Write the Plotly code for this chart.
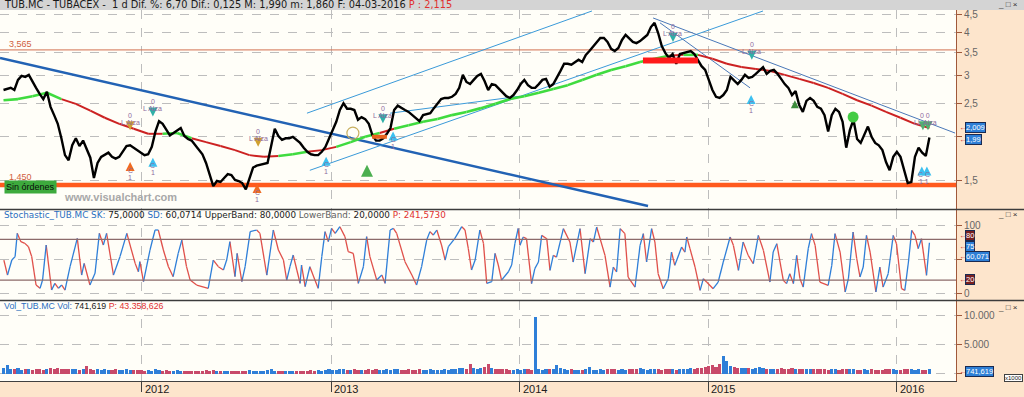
import numpy as np
import pandas as pd
import plotly.graph_objects as go

# ---------------------------------------------------------------- data
START = "2011-04-08"          # first weekly close shown
N_WEEKS = 257                 # weekly closes up to 2016-03-04

close = [
    2.73, 2.75, 2.77, 2.73, 2.92, 3.00, 2.98, 3.02, 2.88, 2.77,
    2.66, 2.57, 2.70, 2.44, 2.31, 2.18, 1.98, 1.77, 1.71, 1.89,
    1.98, 1.88, 1.95, 1.84, 1.74, 1.52, 1.68, 1.75, 1.78, 1.80,
    1.75, 1.73, 1.75, 1.81, 1.88, 1.89, 1.86, 1.82, 1.80, 1.77,
    1.78, 1.87, 2.07, 2.22, 2.18, 2.09, 2.02, 2.05, 2.08, 2.12,
    2.01, 1.97, 1.95, 1.89, 1.84, 1.78, 1.68, 1.55, 1.44, 1.49,
    1.48, 1.52, 1.56, 1.55, 1.50, 1.49, 1.47, 1.41, 1.51, 1.63,
    1.65, 1.66, 1.67, 1.68, 1.88, 2.11, 2.01, 1.96, 1.98, 1.98,
    2.00, 1.96, 1.92, 1.86, 1.81, 1.78, 1.77, 1.77, 1.81, 1.87,
    1.98, 2.09, 2.21, 2.39, 2.50, 2.41, 2.41, 2.39, 2.24, 2.28,
    2.25, 2.18, 2.02, 1.95, 1.95, 1.98, 2.04, 2.12, 2.39, 2.46,
    2.42, 2.39, 2.36, 2.31, 2.27, 2.22, 2.31, 2.33, 2.34, 2.42,
    2.50, 2.57, 2.59, 2.59, 2.61, 2.66, 2.77, 3.02, 2.88, 2.84,
    2.92, 3.00, 3.04, 2.90, 2.73, 2.84, 2.82, 2.75, 2.68, 2.62,
    2.59, 2.64, 2.73, 2.84, 2.92, 2.82, 2.77, 2.77, 2.84, 2.92,
    2.94, 2.79, 2.84, 2.96, 3.10, 3.25, 3.25, 3.23, 3.29, 3.34,
    3.29, 3.45, 3.54, 3.64, 3.76, 3.86, 3.86, 3.76, 3.59, 3.54,
    3.61, 3.81, 3.94, 3.84, 3.76, 3.73, 3.78, 3.86, 3.94, 4.15,
    4.27, 3.99, 3.66, 3.49, 3.38, 3.47, 3.25, 3.47, 3.49, 3.52,
    3.54, 3.47, 3.34, 3.20, 3.12, 2.90, 2.73, 2.61, 2.59, 2.64,
    2.73, 2.98, 2.90, 2.84, 2.92, 3.02, 2.96, 2.98, 3.04, 3.10,
    3.18, 3.04, 3.10, 3.12, 3.04, 2.94, 2.84, 2.77, 2.64, 2.71,
    2.47, 2.36, 2.54, 2.59, 2.54, 2.44, 2.41, 2.31, 2.07, 2.31,
    2.41, 2.36, 2.21, 1.86, 2.09, 2.24, 1.97, 1.92, 2.04, 2.14,
    2.00, 1.92, 1.89, 1.83, 1.69, 1.60, 1.75, 1.81, 1.75, 1.60,
    1.47, 1.48, 1.75, 1.86, 1.80, 1.76, 1.99,
]

MA_EVERY = 4                  # moving average read every 4th week
ma200 = [
    2.55, 2.57, 2.62, 2.68, 2.57, 2.49, 2.38, 2.27, 2.18, 2.11,
    2.04, 2.04, 2.05, 1.98, 1.93, 1.88, 1.83, 1.77, 1.75, 1.76,
    1.78, 1.81, 1.83, 1.87, 1.93, 2.00, 2.05, 2.11, 2.16, 2.21,
    2.25, 2.31, 2.36, 2.42, 2.49, 2.57, 2.62, 2.68, 2.75, 2.82,
    2.92, 3.02, 3.12, 3.20, 3.29, 3.36, 3.43, 3.45, 3.45, 3.36,
    3.25, 3.18, 3.14, 3.10, 3.02, 2.94, 2.86, 2.77, 2.66, 2.55,
    2.46, 2.36, 2.27, 2.18, 2.12,
]

# stochastic turning points: time in weeks after START, value
stoch_wk = [
    0.1, 1.1, 2.3, 3.2, 3.8, 4.8, 5.9, 6.9, 7.8, 9.0,
    10.1, 10.8, 11.8, 13.3, 14.2, 15.2, 16.1, 17.0, 18.4, 20.4,
    21.6, 22.3, 23.9, 25.3, 26.5, 27.6, 28.5, 30.4, 32.2, 34.1,
    36.4, 37.3, 37.7, 38.7, 40.5, 41.9, 42.8, 44.2, 45.6, 46.9,
    48.3, 49.3, 50.6, 51.6, 53.4, 56.6, 58.0, 59.4, 60.8, 61.7,
    62.6, 64.0, 64.6, 65.9, 66.8, 68.2, 70.0, 70.9, 72.8, 74.6,
    76.0, 77.4, 78.3, 79.2, 80.1, 81.1, 82.0, 82.4, 83.4, 84.7,
    86.1, 87.0, 88.0, 88.9, 89.8, 90.7, 91.7, 93.0, 94.4, 95.3,
    96.7, 98.1, 99.5, 100.4, 101.3, 103.2, 104.6, 105.5, 106.9, 107.8,
    108.7, 111.0, 112.9, 114.2, 115.6, 117.0, 117.9, 118.8, 119.8, 121.1,
    122.1, 123.0, 124.8, 126.7, 127.6, 128.5, 129.4, 130.4, 131.7, 132.7,
    133.6, 135.0, 135.9, 136.8, 137.7, 139.6, 140.5, 141.4, 142.3, 142.8,
    143.7, 144.6, 146.0, 146.9, 147.9, 148.8, 150.2, 151.1, 152.0, 152.9,
    154.8, 156.6, 157.5, 159.4, 160.8, 162.2, 163.1, 164.0, 166.3, 167.7,
    168.6, 169.5, 170.5, 171.8, 172.7, 174.6, 176.0, 176.9, 177.8, 179.2,
    180.1, 181.0, 182.4, 183.8, 184.7, 185.6, 187.5, 188.4, 188.9, 189.8,
    191.2, 192.6, 193.5, 194.4, 196.2, 197.6, 199.0, 200.9, 201.8, 203.2,
    204.5, 205.9, 207.3, 208.7, 210.1, 211.9, 212.8, 213.8, 215.6, 216.5,
    217.4, 218.4, 219.3, 220.2, 221.1, 222.5, 223.4, 224.4, 225.7, 228.0,
    229.0, 229.9, 231.3, 232.2, 232.7, 233.6, 234.9, 235.9, 236.8, 237.7,
    238.6, 239.6, 241.2, 242.3, 243.2, 244.6, 246.0, 246.9, 248.3, 249.2,
    250.2, 251.1, 252.0, 252.9, 253.8, 255.2, 256.0,
]
stoch_val = [
    49.5, 27.4, 49.5, 54.5, 88.9, 76.6, 74.1, 69.2, 54.5, 12.7,
    7.8, 20, 71.7, 5.3, 15.1, 7.8, 12.7, 5.3, 39.7, 81.5,
    27.4, 44.6, 12.7, 29.9, 88.9, 71.7, 88.9, 27.4, 54.5, 88.9,
    44.6, 32.3, 47.1, 17.6, 64.3, 93.8, 93.8, 64.3, 39.7, 25,
    59.4, 79, 39.7, 20, 12.7, 7.8, 49.5, 39.7, 34.8, 49.5,
    76.6, 25, 59.4, 17.6, 39.7, 91.4, 93.8, 88.9, 27.4, 93.8,
    64.3, 49.5, 20, 39.7, 56.9, 34.8, 15.1, 42.2, 10.2, 39.7,
    20, 7.8, 54.5, 91.4, 76.6, 96.3, 88.9, 98.7, 84, 61.8,
    59.4, 15.1, 39.7, 84, 54.5, 20, 27.4, 15.1, 93.8, 96.3,
    88.9, 47.1, 27.4, 12.7, 39.7, 79, 91.4, 86.4, 93.8, 71.7,
    49.5, 69.2, 81.5, 98.7, 93.8, 66.8, 34.8, 49.5, 93.8, 74.1,
    15.1, 17.6, 59.4, 42.2, 20, 32.3, 42.2, 74.1, 96.3, 71.2,
    83.5, 81, 14.7, 36.8, 46.6, 85.9, 81, 34.3, 56.4, 53.9,
    95.8, 76.1, 46.6, 95.8, 29.4, 81, 76.1, 98.2, 56.4, 9.7,
    39.2, 31.9, 95.8, 88.4, 24.5, 9.7, 71.2, 88.4, 46.6, 95.8,
    76.1, 29.4, 7.3, 22, 61.3, 41.7, 68.7, 61.3, 83.5, 66.3,
    39.2, 4.8, 22, 17.1, 7.3, 17.1, 46.6, 83.5, 71.2, 34.3,
    76.1, 56.4, 44.1, 85.9, 63.8, 17.1, 61.3, 73.6, 19.6, 14.7,
    29.4, 14.7, 56.4, 22, 9.7, 66.3, 88.4, 71.2, 17.1, 12.2,
    41.7, 88.4, 61.3, 24.5, 2.4, 22, 90.9, 51.5, 24.5, 39.2,
    85.9, 61.3, 2.4, 39.2, 9.7, 29.4, 85.9, 73.6, 7.3, 4.8,
    46.6, 93.3, 85.9, 66.3, 81, 27, 75,
]

# volume (thousands), one value per week
volume_k = [
    900, 1500, 800, 700, 900, 650, 700, 800, 600, 700,
    750, 600, 700, 900, 800, 1000, 850, 700, 800, 750,
    700, 650, 800, 1300, 700, 600, 750, 650, 700, 600,
    650, 700, 600, 550, 700, 600, 650, 550, 600, 500,
    550, 500, 700, 600, 500, 550, 450, 500, 550, 450,
    500, 450, 400, 450, 500, 450, 550, 500, 600, 450,
    400, 450, 500, 400, 450, 500, 450, 500, 550, 450,
    400, 500, 450, 600, 700, 500, 450, 500, 400, 450,
    450, 500, 400, 450, 500, 550, 500, 600, 500, 650,
    700, 600, 650, 800, 700, 600, 650, 700, 550, 600,
    650, 700, 600, 750, 650, 600, 700, 650, 800, 700,
    650, 600, 700, 650, 600, 700, 650, 600, 700, 650,
    600, 650, 700, 650, 750, 800, 900, 1000, 850, 1700,
    900, 800, 1000, 1100, 1700, 900, 800, 700, 750, 700,
    650, 600, 700, 650, 750, 800, 650, 9700, 700, 650,
    700, 750, 800, 1550, 900, 700, 650, 700, 600, 650,
    600, 700, 1100, 650, 600, 700, 650, 800, 750, 700,
    650, 700, 650, 750, 800, 700, 900, 700, 650, 700,
    750, 700, 650, 700, 800, 700, 650, 700, 750, 800,
    900, 800, 900, 1000, 1100, 1300, 1500, 1200, 1600, 3100,
    2100, 1300, 1100, 1000, 900, 1000, 900, 850, 900, 1200,
    900, 800, 750, 850, 800, 900, 750, 800, 1000, 800,
    750, 700, 800, 750, 700, 800, 750, 700, 650, 750,
    700, 650, 700, 750, 800, 700, 650, 600, 700, 650,
    700, 650, 600, 650, 750, 700, 800, 650, 600, 700,
    750, 700, 650, 700, 600, 650, 742,
]

year_ticks = ["2012-01-01", "2013-01-01", "2014-01-01", "2015-01-01", "2016-01-01"]
year_labels = ["2012", "2013", "2014", "2015", "2016"]
price_ticks = [1.5, 2, 2.5, 3, 3.5, 4, 4.5]
price_tick_labels = ["1,5", "", "2,5", "3", "3,5", "4", "4,5"]   # "2" sits under the value boxes
stoch_ticks = [0, 50, 100]
stoch_tick_labels = ["0", "", "100"]                            # "50" sits under the value boxes
vol_ticks = [0, 5000, 10000]
vol_tick_labels = ["", "5.000", "10.000"]

resistance = 3.565
support = 1.450
stoch_bands = [20, 80]

# trend lines (week0, price0, week1, price1)
trend_main = [(-0.97, 3.38, 178.2, 1.261)]
trend_channel = [(83.9, 2.34, 162.7, 4.62), (84.7, 1.60, 210.0, 4.62),
                 (106.9, 2.34, 142.8, 2.62)]
trend_down = [(181.5, 4.27, 206.4, 2.77), (179.6, 4.41, 263.1, 2.05)]
zone_red = (176.8, 192.0, 3.32)
zone_orange = (101.9, 106.0, 2.00)

# trading signals (week, price, side)
sig_wk = [35.0, 35.0, 41.3, 41.3, 70.4, 70.1, 89.2, 104.9, 107.7,
          185.1, 206.9, 206.7, 254.2, 255.6, 253.9, 255.3]
sig_price = [2.09, 1.69, 2.29, 1.74, 1.87, 1.46, 1.75, 2.19, 2.07,
             3.76, 3.34, 2.64, 2.09, 2.09, 1.64, 1.64]
sig_side = ["sell", "buy", "sell", "buy", "sell", "buy", "buy", "sell", "buy",
            "sell", "sell", "buy", "sell", "sell", "buy", "buy"]
big_arrow = (100.5, 1.66)
small_mark = (218.8, 2.55)
ring_mark = (96.6, 2.05)
blob_mark = (234.9, 2.28)

# value boxes on the right axes
price_boxes = ["2,009", "1,99"]
stoch_boxes = ["80", "75", "60,071", "20"]
vol_box = "741,619"

# ---------------------------------------------------------------- styles
C_GREEN_MA = "#3FDB3F"
C_RED_MA = "#CC2222"
C_UP = "#2F7FD8"
C_DN = "#E0504A"
SIG_COLORS = ["#D0A030", "#F06A20", "#30B0A8", "#3CC0F0", "#D0A030", "#F06A20",
              "#3CC0F0", "#30B0A8", "#3CC0F0", "#30B0A8", "#30B0A8", "#3CC0F0",
              "#50B070", "#50B070", "#3CC0F0", "#3CC0F0"]
FONT = "Liberation Sans"
W, H = 1024, 397
X_RIGHT = 956


def px(x):
    return x / W


def py(y):
    return 1 - y / H


t0 = pd.Timestamp(START)


def wk(w):
    return t0 + pd.Timedelta(days=7 * float(w))


dates = pd.date_range(START, periods=N_WEEKS, freq="7D")
x_range = [wk(-0.97), wk(263.35)]

fig = go.Figure()

# horizontal levels
fig.add_trace(go.Scatter(x=x_range, y=[resistance, resistance], mode="lines",
                         line=dict(color="#D27050", width=1), xaxis="x", yaxis="y"))
fig.add_trace(go.Scatter(x=x_range, y=[support, support], mode="lines",
                         line=dict(color="#FF5A1E", width=4.5), xaxis="x", yaxis="y"))

# trend lines
for (w0, p0, w1, p1) in trend_main:
    fig.add_trace(go.Scatter(x=[wk(w0), wk(w1)], y=[p0, p1], mode="lines",
                             line=dict(color="#2262B4", width=2.5), xaxis="x", yaxis="y"))
for (w0, p0, w1, p1) in trend_channel:
    fig.add_trace(go.Scatter(x=[wk(w0), wk(w1)], y=[p0, p1], mode="lines",
                             line=dict(color="#3A9AD9", width=1), xaxis="x", yaxis="y"))
for (w0, p0, w1, p1) in trend_down:
    fig.add_trace(go.Scatter(x=[wk(w0), wk(w1)], y=[p0, p1], mode="lines",
                             line=dict(color="#4A78B8", width=1), xaxis="x", yaxis="y"))

# moving average coloured by position of price
ma_dates = dates[::MA_EVERY]
ma_close = close[::MA_EVERY]
gx, gy, rx, ry = [], [], [], []
for k in range(len(ma200) - 1):
    seg_x = [ma_dates[k], ma_dates[k + 1], None]
    seg_y = [ma200[k], ma200[k + 1], None]
    if ma_close[k] > ma200[k]:
        gx += seg_x; gy += seg_y
    else:
        rx += seg_x; ry += seg_y
fig.add_trace(go.Scatter(x=rx, y=ry, mode="lines", line=dict(color=C_RED_MA, width=2),
                         xaxis="x", yaxis="y"))
fig.add_trace(go.Scatter(x=gx, y=gy, mode="lines", line=dict(color=C_GREEN_MA, width=2.6),
                         xaxis="x", yaxis="y"))

# price
fig.add_trace(go.Scatter(x=dates, y=close, mode="lines",
                         line=dict(color="#000000", width=2.4), xaxis="x", yaxis="y"))

# zones
fig.add_trace(go.Scatter(x=[wk(zone_red[0]), wk(zone_red[1])], y=[zone_red[2]] * 2,
                         mode="lines", line=dict(color="#FF1A1A", width=6), xaxis="x", yaxis="y"))
fig.add_trace(go.Scatter(x=[wk(zone_orange[0]), wk(zone_orange[1])], y=[zone_orange[2]] * 2,
                         mode="lines", line=dict(color="#E8641E", width=4), xaxis="x", yaxis="y"))

# signals
fig.add_trace(go.Scatter(
    x=[wk(w) for w in sig_wk], y=sig_price, mode="markers",
    marker=dict(symbol=["arrow-down" if s == "sell" else "arrow-up" for s in sig_side],
                size=9, color=SIG_COLORS, line=dict(width=0)),
    xaxis="x", yaxis="y"))
fig.add_trace(go.Scatter(x=[wk(big_arrow[0])], y=[big_arrow[1]], mode="markers",
                         marker=dict(symbol="arrow-up", size=12, color="#4CAF50"),
                         xaxis="x", yaxis="y"))
fig.add_trace(go.Scatter(x=[wk(small_mark[0])], y=[small_mark[1]], mode="markers",
                         marker=dict(symbol="arrow-up", size=8, color="#3C8C3C"),
                         xaxis="x", yaxis="y"))
fig.add_trace(go.Scatter(x=[wk(ring_mark[0])], y=[ring_mark[1]], mode="markers",
                         marker=dict(symbol="circle-open", size=12, color="#C8B060",
                                     line=dict(width=1.2)), xaxis="x", yaxis="y"))
fig.add_trace(go.Scatter(x=[wk(blob_mark[0])], y=[blob_mark[1]], mode="markers",
                         marker=dict(symbol="circle", size=11, color="#44CC44"),
                         xaxis="x", yaxis="y"))

# stochastic, blue rising / red falling
ux, uy, dx, dy = [], [], [], []
for a in range(len(stoch_wk) - 1):
    seg_x = [wk(stoch_wk[a]), wk(stoch_wk[a + 1]), None]
    seg_y = [stoch_val[a], stoch_val[a + 1], None]
    if stoch_val[a + 1] >= stoch_val[a]:
        ux += seg_x; uy += seg_y
    else:
        dx += seg_x; dy += seg_y
fig.add_trace(go.Scatter(x=dx, y=dy, mode="lines", line=dict(color=C_DN, width=1.3),
                         xaxis="x2", yaxis="y2"))
fig.add_trace(go.Scatter(x=ux, y=uy, mode="lines", line=dict(color=C_UP, width=1.3),
                         xaxis="x2", yaxis="y2"))

# volume
vol_colors = [C_UP if (i == 0 or close[i] >= close[i - 1]) else "#C84A6A"
              for i in range(N_WEEKS)]
fig.add_trace(go.Bar(x=dates, y=volume_k, marker=dict(color=vol_colors, line=dict(width=0)),
                     width=6 * 86400000, xaxis="x3", yaxis="y3"))

# ---------------------------------------------------------------- layout
xdom = [0, X_RIGHT / W]
grid_common = dict(showgrid=True, gridcolor="#BDBDBD", griddash="dash", gridwidth=1,
                   zeroline=False)
xcommon = dict(type="date", domain=xdom, range=x_range, tickmode="array",
               tickvals=year_ticks, **grid_common)
ycommon = dict(side="right", ticks="outside", ticklen=5, tickcolor="#A0583A",
               showline=True, linecolor="#A0583A", linewidth=1,
               tickfont=dict(family=FONT, size=10, color="#666666"), **grid_common)

fig.update_layout(
    width=W, height=H, margin=dict(l=0, r=0, t=0, b=0),
    paper_bgcolor="#FDE5CC", plot_bgcolor="#FFFEF8", showlegend=False,
    font=dict(family=FONT, size=9, color="#1A1A1A"),
    bargap=0,
    xaxis=dict(anchor="y", showticklabels=False, ticks="", **xcommon),
    xaxis2=dict(anchor="y2", matches="x", showticklabels=False, ticks="", **xcommon),
    xaxis3=dict(anchor="y3", matches="x", showticklabels=False, ticks="outside",
                ticklen=10, tickcolor="#404040",
                showline=True, linecolor="#404040", **xcommon),
    yaxis=dict(anchor="x", type="log", domain=[py(209), py(10)],
               range=[np.log10(1.2367), np.log10(4.65)], tickmode="array",
               tickvals=price_ticks, ticktext=price_tick_labels, **ycommon),
    yaxis2=dict(anchor="x2", domain=[py(300), py(210)], range=[-9.4, 123.3],
                tickmode="array", tickvals=stoch_ticks, ticktext=stoch_tick_labels, **ycommon),
    yaxis3=dict(anchor="x3", domain=[py(381), py(301)], range=[-1293, 12500],
                tickmode="array", tickvals=vol_ticks, ticktext=vol_tick_labels, **ycommon),
)

# stochastic bands
for b in stoch_bands:
    fig.add_shape(type="line", xref="x2 domain", x0=0, x1=1, yref="y2", y0=b, y1=b,
                  line=dict(color="#8C6A6A", width=1.2))

# frame pieces
fig.add_shape(type="rect", xref="paper", yref="paper", x0=0, x1=1, y0=py(10), y1=1,
              fillcolor="#D4D4D4", line=dict(width=0))
for yy in (209.5, 300.5):
    fig.add_shape(type="line", xref="paper", yref="paper", x0=0, x1=1, y0=py(yy), y1=py(yy),
                  line=dict(color="#3C3C3C", width=1.5))

anns = []


def ann(text, x, y, xanchor="left", size=9, color="#1A1A1A", family=FONT, **kw):
    anns.append(dict(text=text, x=px(x), y=py(y), xref="paper", yref="paper",
                     xanchor=xanchor, yanchor="middle", showarrow=False,
                     font=dict(family=family, size=size, color=color), **kw))


RED = "#E03030"
BLUE_T = "#2A6EC0"
ann("TUB.MC - TUBACEX -  1 d Dif. %: 6,70 Dif.: 0,125 M: 1,990 m: 1,860 F: 04-03-2016 "
    f"<span style='color:{RED}'>P : 2,115</span>", 2, 5, size=9.8, family="DejaVu Sans")
ann(f"<span style='color:{BLUE_T}'>Stochastic_TUB.MC SK:</span> 75,0000 "
    f"<span style='color:{BLUE_T}'>SD:</span> 60,0714 UpperBand: 80,0000 "
    f"<span style='color:#606060'>LowerBand:</span> 20,0000 "
    f"<span style='color:{RED}'>P: 241,5730</span>", 2, 215, size=8.8, family="DejaVu Sans")
ann(f"<span style='color:{BLUE_T}'>Vol_TUB.MC Vol:</span> 741,619 "
    f"<span style='color:{RED}'>P: 43.358,626</span>", 2, 306, size=8.8)
for yy in (5, 214, 307):
    ann("_ □ ×", 1020, yy, xanchor="right", size=8, color="#303030")

ann("3,565", 7, 44.5, color="#D06040")
ann("1,450", 7, 176.5, color="#D06040")
ann("Sin órdenes", 4, 187, bgcolor="#3DAA3D", borderpad=1, color="#0A0A0A")
ann("<b>www.visualchart.com</b>", 62, 197, size=11, color="#A8A8A8")

# year labels beside the bottom ticks
for tv, tl in zip(year_ticks, year_labels):
    anns.append(dict(text=tl, x=tv, y=py(389), xref="x3", yref="paper", xanchor="left",
                     yanchor="middle", xshift=1, showarrow=False,
                     font=dict(family=FONT, size=11, color="#202020")))

# right-axis value boxes
box = dict(bordercolor="#1A2A50", borderwidth=1, borderpad=0)
for txt, yy in zip(price_boxes, (127, 139)):
    ann("←", 957, yy, size=8, color="#D03030")
    ann(txt, 965, yy, size=7.5, color="#FFFFFF", bgcolor="#2E7FD6", **box)
for txt, yy, bg in zip(stoch_boxes, (236, 246, 256, 279),
                       ("#7A2020", "#2E7FD6", "#2E7FD6", "#7A2020")):
    ann("←", 957, yy, size=8, color="#D03030")
    ann(txt, 965, yy, size=7.5, color="#FFFFFF", bgcolor=bg, **box)
ann("←", 957, 371, size=8, color="#D03030")
ann(vol_box, 965, 371, size=7.5, color="#FFFFFF", bgcolor="#2E7FD6", **box)
ann("x1000", 1023, 378, xanchor="right", size=6, color="#202020",
    bgcolor="#FFFFFF", bordercolor="#404040", borderwidth=1, borderpad=0)

# signal labels (signals of the same side within 3 weeks share one label)
groups = []
for w, p, s in zip(sig_wk, sig_price, sig_side):
    if groups and groups[-1]["side"] == s and abs(groups[-1]["w"][-1] - w) < 3 \
            and abs(groups[-1]["p"] - p) < 0.05:
        groups[-1]["w"].append(w)
    else:
        groups.append(dict(side=s, w=[w], p=p))
for g in groups:
    n = len(g["w"])
    wm = float(np.mean(g["w"]))
    if g["side"] == "sell":
        lines = [("L" * n + " Alza", 8), (" ".join(["0"] * n), 15)]
    else:
        lines = [(" ".join(["C"] * n), -8), (" ".join(["1"] * n), -15)]
    for txt, sh in lines:
        anns.append(dict(text=txt, x=wk(wm), y=np.log10(g["p"]), xref="x", yref="y",
                         yshift=sh, showarrow=False,
                         font=dict(family=FONT, size=7, color="#8E6A9E")))

fig.update_layout(annotations=anns)
fig.write_html("out.html", config={"displayModeBar": False},
               post_script="document.body.style.margin='0';"
                           "document.body.style.overflow='hidden';")
